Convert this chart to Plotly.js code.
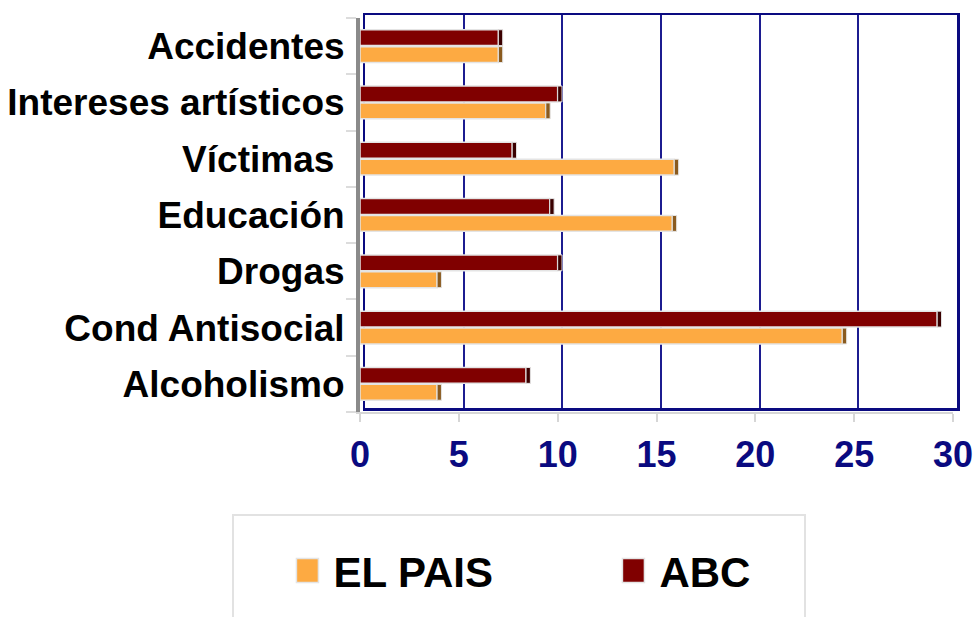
<!DOCTYPE html>
<html>
<head>
<meta charset="utf-8">
<script src="https://cdn.plot.ly/plotly-3.0.1.min.js"></script>
<style>html,body{margin:0;padding:0;background:#fff;}#chart{width:975px;height:617px;}</style>
</head>
<body>
<div id="chart"></div>
<script>
// Categories (bottom to top)
const categories = ["Alcoholismo", "Cond Antisocial", "Drogas", "Educación", "Víctimas\u00a0", "Intereses artísticos", "Accidentes"];
const elPais = [3.9, 24.4, 3.9, 15.8, 15.9, 9.4, 7.0];
const abc    = [8.4, 29.2, 10.0, 9.6, 7.7, 10.0, 7.0];
const seriesNames = ["EL PAIS", "ABC"];
const xTicks = [0, 5, 10, 15, 20, 25, 30];

const CAP = 0.22;
const FONT = "Arial, 'Liberation Sans', sans-serif";
const NAVY = "#0a0a80";

const barLine = {color: "#e4e4e4", width: 1.5};

const traces = [
  {type: "scatter", x: [], y: [], xaxis: "x", yaxis: "y", showlegend: false, hoverinfo: "skip"},
  {type: "bar", orientation: "h", name: seriesNames[0], y: categories, x: elPais, xaxis: "x2", yaxis: "y2",
   offsetgroup: "p", marker: {color: "#FDAA42", line: barLine}},
  {type: "bar", orientation: "h", name: seriesNames[1], y: categories, x: abc, xaxis: "x2", yaxis: "y2",
   offsetgroup: "a", marker: {color: "#800000", line: barLine}},
  {type: "bar", orientation: "h", showlegend: false, y: categories, x: elPais.map(() => CAP), base: elPais,
   xaxis: "x2", yaxis: "y2", offsetgroup: "p", marker: {color: "#8a5a1e", line: {color: "#e4e4e4", width: 1}}},
  {type: "bar", orientation: "h", showlegend: false, y: categories, x: abc.map(() => CAP), base: abc,
   xaxis: "x2", yaxis: "y2", offsetgroup: "a", marker: {color: "#3a0000", line: {color: "#e4e4e4", width: 1}}}
];

const layout = {
  width: 975, height: 617,
  margin: {l: 360, r: 18, t: 15, b: 201, pad: 0},
  paper_bgcolor: "#ffffff", plot_bgcolor: "rgba(0,0,0,0)",
  font: {family: FONT, color: "#000"},
  barmode: "group", bargap: 0.40, bargroupgap: 0.06,
  showlegend: true,
  // back wall
  xaxis: {domain: [0.0084, 1], anchor: "y", range: [0, 30], tickvals: xTicks, showticklabels: false,
          showgrid: true, gridcolor: "#1c1c90", gridwidth: 2, zeroline: false,
          showline: true, mirror: true, linecolor: NAVY, linewidth: 2.5, ticks: ""},
  yaxis: {domain: [0.01, 1], anchor: "x", range: [0, 1], showticklabels: false, showgrid: false,
          zeroline: false, showline: true, mirror: true, linecolor: NAVY, linewidth: 2.5, ticks: ""},
  // floor / bars
  xaxis2: {domain: [0, 0.9933], anchor: "y2", range: [0, 30], tickvals: xTicks, ticktext: xTicks.map(String),
           showgrid: false, zeroline: false, showline: true, linecolor: "#d6d6d6", linewidth: 2,
           ticks: "outside", ticklen: 8, tickwidth: 2, tickcolor: "#d6d6d6",
           ticklabelstandoff: 2,
           tickfont: {family: FONT, size: 36, color: NAVY, weight: "bold"}},
  yaxis2: {domain: [0, 0.9925], anchor: "x2", type: "category", categoryorder: "array", categoryarray: categories,
           showgrid: false, zeroline: false, showline: true, linecolor: "#8a8a8a", linewidth: 4, layer: "below traces",
           ticks: "outside", tickson: "boundaries", ticklen: 10, tickwidth: 2, tickcolor: "#dcdcdc",
           ticklabelstandoff: 4,
           tickfont: {family: FONT, size: 37, color: "#000", weight: "bold"}},
  legend: {orientation: "h", x: -0.1115, xanchor: "left", y: -0.40, yanchor: "middle",
           bgcolor: "rgba(0,0,0,0)", borderwidth: 0,
           entrywidth: 281, entrywidthmode: "pixels",
           font: {family: FONT, size: 42, color: "#000", weight: "bold"}},
  shapes: [
    {type: "rect", xref: "paper", yref: "paper", x0: -0.2127, x1: 0.7454, y0: -0.6, y1: -0.2594,
     line: {color: "#e2e2e2", width: 2}, fillcolor: "rgba(0,0,0,0)", layer: "below"}
  ]
};

Plotly.newPlot("chart", traces, layout, {staticPlot: true}).then(() => {
  document.querySelectorAll("#chart .legendpoints path").forEach(p => {
    p.setAttribute("d", "M25,12H3V-12H25Z");
    p.removeAttribute("transform");
  });
});
</script>
</body>
</html>
